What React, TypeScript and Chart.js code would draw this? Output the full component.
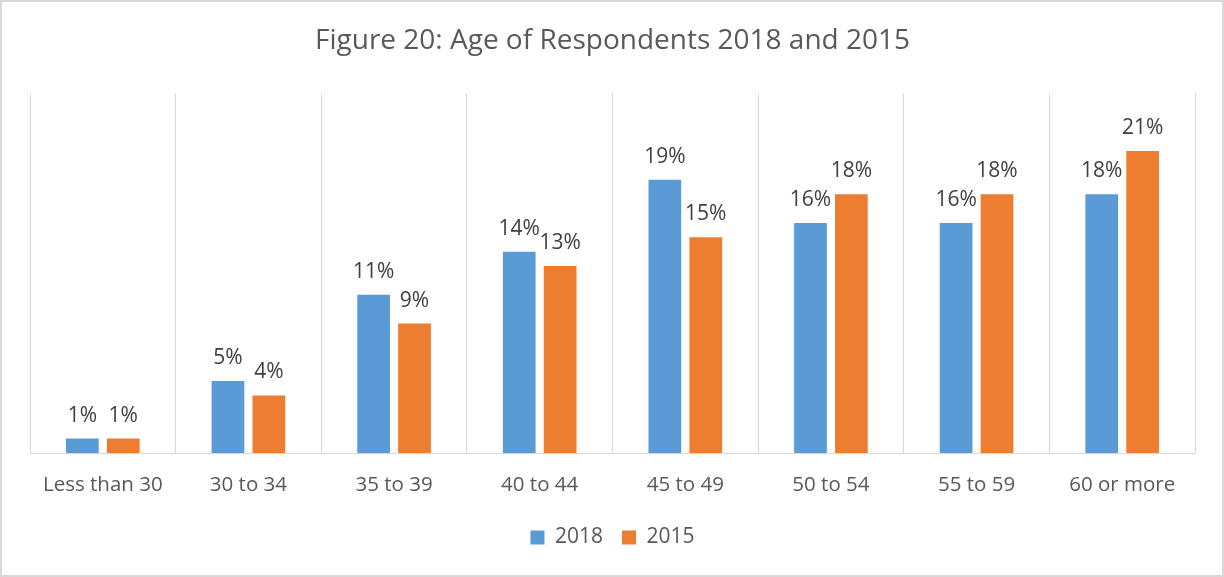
import React, { useEffect, useRef } from "react";
import { Chart, registerables } from "chart.js";

Chart.register(...registerables);

const categories = ["Less than 30", "30 to 34", "35 to 39", "40 to 44", "45 to 49", "50 to 54", "55 to 59", "60 or more"];
const values2018 = [1, 5, 11, 14, 19, 16, 16, 18];
const values2015 = [1, 4, 9, 13, 15, 18, 18, 21];
const seriesLabels = ["2018", "2015"];
const titleText = "Figure 20: Age of Respondents 2018 and 2015";

const FONT = "'Open Sans', 'DejaVu Sans', sans-serif";

const framePlugin = {
  id: "frame",
  beforeDraw(chart: any) {
    const { ctx, width, height } = chart;
    ctx.save();
    ctx.fillStyle = "#ffffff";
    ctx.fillRect(0, 0, width, height);
    ctx.restore();
  },
  afterDraw(chart: any) {
    const { ctx, width, height } = chart;
    ctx.save();
    ctx.strokeStyle = "#d9d9d9";
    ctx.lineWidth = 2;
    ctx.strokeRect(1, 1, width - 2, height - 2);
    ctx.restore();
  },
};

const dataLabelPlugin = {
  id: "dataLabels",
  afterDatasetsDraw(chart: any) {
    const { ctx } = chart;
    ctx.save();
    ctx.font = `21px ${FONT}`;
    ctx.fillStyle = "#404040";
    ctx.textAlign = "center";
    ctx.textBaseline = "alphabetic";
    chart.data.datasets.forEach((ds: any, i: number) => {
      const meta = chart.getDatasetMeta(i);
      meta.data.forEach((el: any, j: number) => {
        ctx.fillText(`${ds.data[j]}%`, el.x, el.y - 17);
      });
    });
    ctx.restore();
  },
};

export default function App() {
  const ref = useRef<HTMLCanvasElement>(null);

  useEffect(() => {
    if (!ref.current) return;
    const chart = new Chart(ref.current, {
      type: "bar",
      data: {
        labels: categories,
        datasets: [
          {
            label: seriesLabels[0],
            data: values2018,
            backgroundColor: "#5B9BD5",
            categoryPercentage: 0.562,
            barPercentage: 0.8,
          },
          {
            label: seriesLabels[1],
            data: values2015,
            backgroundColor: "#ED7D31",
            categoryPercentage: 0.562,
            barPercentage: 0.8,
          },
        ],
      },
      options: {
        responsive: false,
        animation: false,
        layout: { padding: { left: 30, right: 29, top: 0, bottom: 19 } },
        plugins: {
          title: {
            display: true,
            text: titleText,
            color: "#595959",
            font: { family: FONT, size: 28, weight: "normal" },
            padding: { top: 24, bottom: 36 },
          },
          legend: {
            display: true,
            position: "bottom",
            labels: {
              boxWidth: 14,
              boxHeight: 14,
              padding: 19,
              color: "#595959",
              font: { family: FONT, size: 21 },
            },
          },
          tooltip: { enabled: false },
        },
        scales: {
          x: {
            offset: true,
            grid: {
              offset: true,
              color: "#d9d9d9",
              lineWidth: 1,
              drawTicks: false,
            },
            border: { display: true, color: "#d9d9d9", width: 1 },
            ticks: {
              color: "#595959",
              font: { family: FONT, size: 20.5 },
              padding: 20,
              maxRotation: 0,
              autoSkip: false,
            },
            afterFit: (scale: any) => {
              scale.height = 55;
            },
          },
          y: {
            display: false,
            min: 0,
            max: 25,
          },
        },
      },
      plugins: [framePlugin, dataLabelPlugin],
    });
    return () => chart.destroy();
  }, []);

  return (
    <div style={{ position: "absolute", left: 0, top: 0, width: 1224, height: 577 }}>
      <canvas ref={ref} width={1224} height={577} style={{ display: "block" }} />
    </div>
  );
}
